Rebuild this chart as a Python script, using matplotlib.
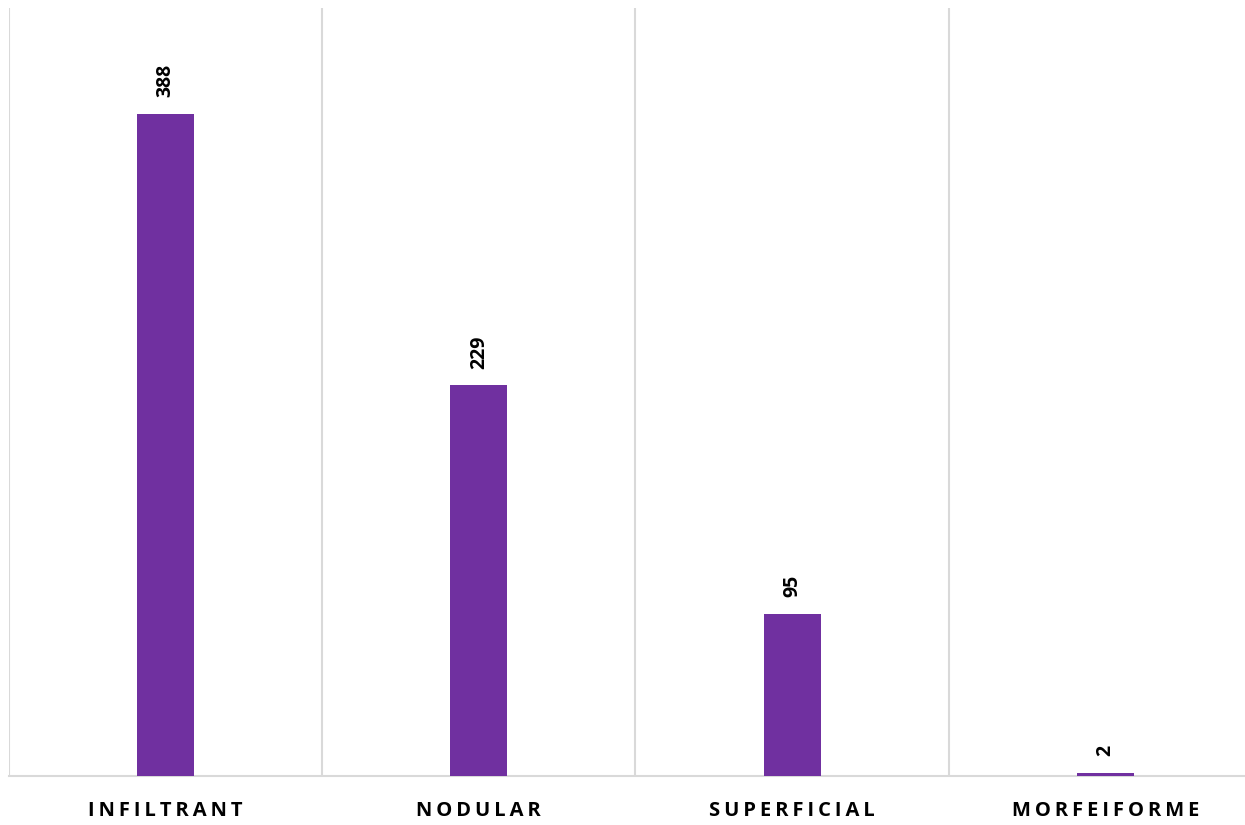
import matplotlib
matplotlib.use("Agg")
import matplotlib.pyplot as plt

# -- data -----------------------------------------------------------------------
categories = ["INFILTRANT", "NODULAR", "SUPERFICIAL", "MORFEIFORME"]
counts     = [388, 229, 95, 2]

BAR_COLOR  = "#7030A0"
GRID_COLOR = "#D9D9D9"

plt.rcParams["font.family"] = ["Open Sans", "DejaVu Sans"]

fig = plt.figure(figsize=(12.45, 8.25), dpi=100)
# plot area runs a little past the right edge (cropped like the original)
ax = fig.add_axes([9 / 1245, 49 / 825, 1253 / 1245, 768 / 825])

x = list(range(len(categories)))
ax.bar(x, counts, width=0.182, color=BAR_COLOR, zorder=3)

ax.set_xlim(-0.5, len(categories) - 0.5)
ax.set_ylim(0, 450)

# vertical separators between categories
for b in [i - 0.5 for i in range(len(categories))]:
    ax.axvline(b, color=GRID_COLOR, lw=1.5, zorder=1)

for s in ["top", "right", "left"]:
    ax.spines[s].set_visible(False)
ax.spines["bottom"].set_color(GRID_COLOR)
ax.spines["bottom"].set_linewidth(1.5)

ax.set_yticks([])
ax.set_xticks(x)
# spaced-out letters like the original
ax.set_xticklabels(["\u2009".join(c) for c in categories],
                   fontsize=14.5, fontweight="bold")
ax.tick_params(axis="x", length=0, pad=18)

for xi, v in zip(x, counts):
    ax.annotate(str(v), (xi, v), xytext=(0, 12), textcoords="offset points",
                rotation=90, ha="center", va="bottom",
                fontsize=14, fontweight="bold")

fig.savefig("out.png", dpi=100)
